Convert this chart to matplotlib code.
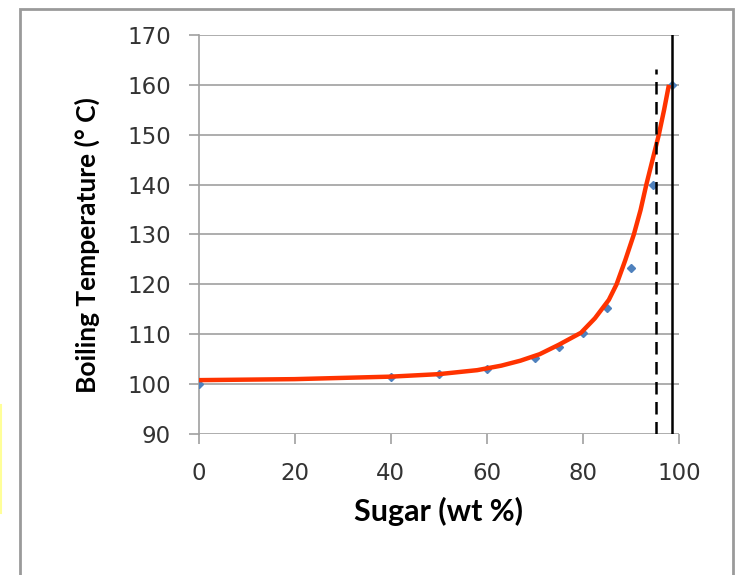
import numpy as np
import matplotlib.pyplot as plt
from matplotlib.patches import Rectangle

# measured points (sugar wt %, boiling temperature)
sugar = [0, 40, 50, 60, 70, 75, 80, 85, 90, 94.6, 98.6]
temp = [100.0, 101.4, 102.0, 103.0, 105.2, 107.5, 110.3, 115.2, 123.3, 140.0, 160.0]

# trend curve
curve_x = [0, 20, 40, 50, 58, 63, 67, 71, 75, 79.6, 82.5, 85.4, 87, 88.8, 90.6,
           92, 93.2, 94.5, 95.8, 96.9, 97.9]
curve_y = [100.8, 101.0, 101.5, 102.0, 102.8, 103.7, 104.7, 106.0, 107.9, 110.3, 113.2,
           116.9, 120.0, 124.8, 130.0, 134.9, 140.0, 145.0, 150.0, 155.0, 160.0]

dashed_x, dashed_top = 95.2, 163.2
solid_x = 98.5

xticks = [0, 20, 40, 60, 80, 100]
yticks = [90, 100, 110, 120, 130, 140, 150, 160, 170]

fig = plt.figure(figsize=(7.38, 5.75), dpi=100)
fig.patches.append(Rectangle((20 / 738, -0.05), (733 - 20) / 738, 1 - 9 / 575 + 0.05,
                             transform=fig.transFigure, fill=False, ec="#9a9a9a", lw=2))
fig.lines.append(plt.Line2D([1 / 738, 1 / 738], [1 - 405 / 575, 1 - 513 / 575],
                            transform=fig.transFigure, color="#ffff99", lw=1.5))

ax = fig.add_axes([198.5 / 738, 1 - 434 / 575, (679 - 198.5) / 738, (434 - 35) / 575])

for y in yticks:
    ax.axhline(y, color="#a0a0a0", lw=1.2, zorder=1)

ax.plot(sugar, temp, linestyle="none", marker="D", ms=4.5, color="#4f81bd", zorder=3)
ax.plot(curve_x, curve_y, color="#ff3300", lw=3.2, zorder=4, solid_capstyle="butt")

ax.plot([solid_x, solid_x], [90, 170], color="black", lw=1.8, zorder=5)
ax.plot([dashed_x, dashed_x], [90, dashed_top], color="black", lw=1.8, ls=(0, (5, 3)), zorder=5)

ax.set_xlim(0, 100)
ax.set_ylim(90, 170)
ax.set_xticks(xticks)
ax.set_yticks(yticks)
for s in ["top", "right", "bottom"]:
    ax.spines[s].set_visible(False)
ax.spines["left"].set_color("#a0a0a0")
ax.spines["left"].set_linewidth(1.2)
ax.tick_params(axis="both", colors="#a0a0a0", labelcolor="#333333", labelsize=16.5, length=7, width=1.2)
ax.tick_params(axis="x", pad=13)
ax.tick_params(axis="y", pad=13)

ax.set_xlabel("Sugar (wt %)", fontsize=22, fontweight="bold", family="Lato", labelpad=9)
ax.set_ylabel("Boiling Temperature (° C)", fontsize=19, fontweight="bold", family="Lato")
ax.yaxis.set_label_coords(-0.205, 0.474)

fig.savefig("out.png", dpi=100)
